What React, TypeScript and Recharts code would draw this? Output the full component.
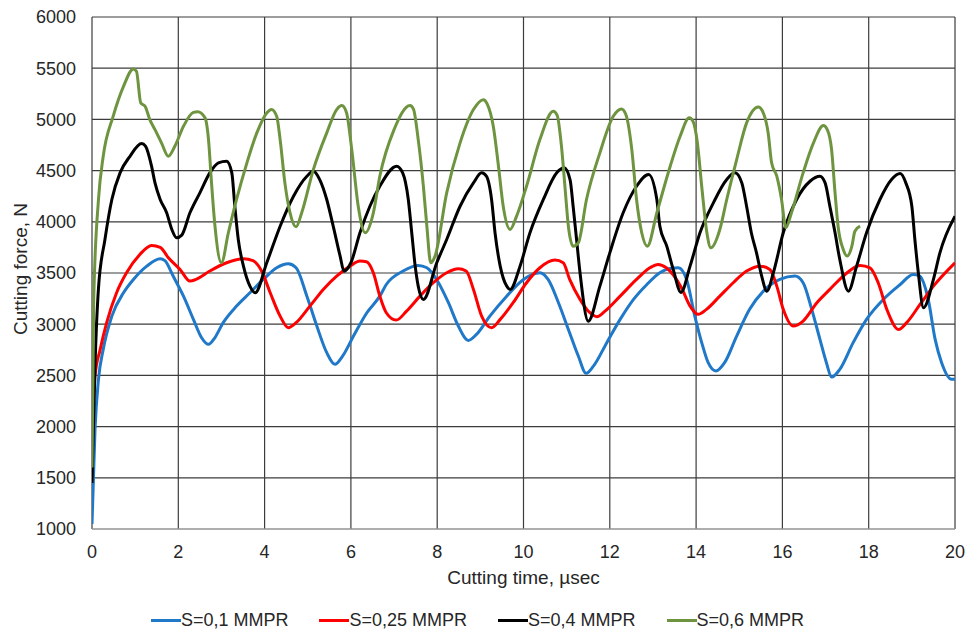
import { CartesianGrid, Legend, Line, LineChart, XAxis, YAxis } from 'recharts';

const TIME_TICKS = [0, 2, 4, 6, 8, 10, 12, 14, 16, 18, 20];
const FORCE_TICKS = [1000, 1500, 2000, 2500, 3000, 3500, 4000, 4500, 5000, 5500, 6000];

const SERIES_NAMES = ['S=0,1 MMPR', 'S=0,25 MMPR', 'S=0,4 MMPR', 'S=0,6 MMPR'];
const SERIES_COLORS = ['#1f78c8', '#ff0000', '#000000', '#6f9440'];

// [time µsec, force N]
const S_01: [number, number][] = [
  [0, 1050], [0.07, 1974], [0.15, 2461], [0.26, 2754], [0.46, 3079], [0.73, 3307], [0.96, 3437],
  [1.27, 3567], [1.58, 3639], [1.69, 3620], [1.88, 3470], [2.12, 3274], [2.35, 3047], [2.54, 2868],
  [2.7, 2803], [2.85, 2870], [3.04, 3015], [3.35, 3177], [3.66, 3307], [3.97, 3437], [4.28, 3551],
  [4.55, 3590], [4.73, 3551], [4.98, 3274], [5.21, 2982], [5.44, 2722], [5.63, 2608], [5.81, 2690],
  [6.06, 2884], [6.37, 3112], [6.67, 3274], [6.82, 3388], [7.21, 3519], [7.56, 3574], [7.76, 3551],
  [8.03, 3405], [8.26, 3210], [8.49, 2982], [8.72, 2842], [8.91, 2900], [9.22, 3079], [9.61, 3274],
  [10.0, 3437], [10.38, 3502], [10.57, 3437], [10.81, 3210], [11.04, 2949], [11.27, 2689],
  [11.45, 2520], [11.62, 2590], [11.93, 2820], [12.24, 3047], [12.55, 3242], [12.86, 3388],
  [13.16, 3502], [13.4, 3545], [13.59, 3551], [13.78, 3437], [13.97, 3079], [14.13, 2820],
  [14.28, 2624], [14.46, 2543], [14.66, 2624], [14.94, 2884], [15.24, 3145], [15.56, 3323],
  [15.94, 3437], [16.29, 3470], [16.48, 3405], [16.68, 3145], [16.87, 2852], [17.02, 2624],
  [17.14, 2484], [17.33, 2559], [17.64, 2820], [17.95, 3047], [18.34, 3242], [18.73, 3388],
  [19.03, 3486], [19.18, 3470], [19.38, 3242], [19.54, 2852], [19.69, 2624], [19.92, 2462], [20, 2462],
];

const S_025: [number, number][] = [
  [0, 1900], [0.07, 2494], [0.19, 2754], [0.34, 3015], [0.57, 3307], [0.8, 3502], [1.11, 3681],
  [1.38, 3769], [1.58, 3750], [1.77, 3649], [2.04, 3535], [2.27, 3421], [2.41, 3437], [2.73, 3519],
  [3.12, 3600], [3.51, 3639], [3.73, 3620], [3.93, 3519], [4.13, 3307], [4.36, 3079], [4.55, 2966],
  [4.73, 3015], [5.05, 3177], [5.36, 3340], [5.67, 3470], [5.98, 3567], [6.21, 3616], [6.36, 3610],
  [6.52, 3502], [6.67, 3274], [6.82, 3112], [7.05, 3040], [7.29, 3128], [7.6, 3274], [7.91, 3405],
  [8.22, 3502], [8.49, 3541], [8.67, 3519], [8.84, 3340], [9.03, 3079], [9.26, 2966], [9.46, 3047],
  [9.76, 3210], [10.07, 3405], [10.38, 3551], [10.73, 3626], [10.92, 3600], [11.07, 3437],
  [11.31, 3242], [11.54, 3112], [11.7, 3073], [11.89, 3128], [12.24, 3274], [12.62, 3437],
  [12.93, 3551], [13.12, 3584], [13.31, 3551], [13.66, 3356], [13.86, 3177], [14.05, 3096],
  [14.24, 3145], [14.55, 3274], [14.86, 3405], [15.17, 3519], [15.48, 3567], [15.71, 3535],
  [15.87, 3372], [16.02, 3145], [16.25, 2982], [16.48, 3031], [16.8, 3210], [17.1, 3340],
  [17.41, 3470], [17.8, 3574], [18.03, 3551], [18.22, 3405], [18.42, 3145], [18.69, 2949],
  [18.88, 3015], [19.19, 3193], [19.5, 3372], [20, 3600],
];

const S_04: [number, number][] = [
  [0, 1450], [0.07, 2600], [0.15, 3350], [0.3, 3827], [0.46, 4218], [0.65, 4478], [0.88, 4640],
  [1.15, 4764], [1.24, 4738], [1.38, 4543], [1.46, 4380], [1.58, 4218], [1.73, 4088], [1.85, 3925],
  [1.96, 3844], [2.08, 3870], [2.27, 4088], [2.5, 4283], [2.73, 4478], [2.93, 4576], [3.12, 4591],
  [3.24, 4478], [3.31, 4152], [3.39, 3827], [3.51, 3567], [3.66, 3372], [3.78, 3307], [4.05, 3600],
  [4.36, 3957], [4.67, 4250], [4.98, 4445], [5.13, 4494], [5.28, 4410], [5.44, 4218], [5.59, 3957],
  [5.75, 3665], [5.84, 3518], [6.0, 3600], [6.21, 3893], [6.44, 4152], [6.67, 4347], [7.06, 4543],
  [7.2, 4478], [7.33, 4218], [7.41, 3893], [7.49, 3567], [7.56, 3372], [7.68, 3242], [7.99, 3600],
  [8.22, 3827], [8.53, 4152], [8.84, 4380], [9.03, 4478], [9.14, 4445], [9.26, 4218], [9.34, 3893],
  [9.46, 3567], [9.61, 3372], [9.69, 3340], [9.92, 3567], [10.15, 3893], [10.46, 4218],
  [10.77, 4478], [10.94, 4527], [11.08, 4410], [11.15, 4152], [11.23, 3827], [11.31, 3502],
  [11.5, 3030], [11.77, 3372], [12.0, 3697], [12.31, 4088], [12.62, 4347], [12.9, 4461],
  [13.09, 4218], [13.16, 3957], [13.32, 3762], [13.47, 3535], [13.65, 3310], [13.86, 3567],
  [14.09, 3893], [14.4, 4185], [14.71, 4413], [14.9, 4478], [15.06, 4380], [15.17, 4152],
  [15.28, 3893], [15.4, 3697], [15.52, 3470], [15.64, 3323], [15.79, 3502], [16.02, 3893],
  [16.33, 4218], [16.64, 4396], [16.87, 4445], [16.99, 4380], [17.1, 4152], [17.22, 3893],
  [17.33, 3632], [17.53, 3323], [17.72, 3567], [17.95, 3893], [18.26, 4218], [18.53, 4413],
  [18.73, 4471], [18.86, 4380], [19.0, 4152], [19.07, 3827], [19.15, 3502], [19.27, 3161],
  [19.5, 3437], [19.65, 3697], [20, 4055],
];

const S_06: [number, number][] = [
  [0, 1600], [0.04, 3240], [0.15, 4218], [0.26, 4640], [0.49, 5030], [0.73, 5323], [0.96, 5493],
  [1.03, 5470], [1.13, 5161], [1.23, 5128], [1.34, 4998], [1.46, 4900], [1.61, 4771], [1.77, 4640],
  [1.92, 4738], [2.12, 4933], [2.35, 5069], [2.45, 5075], [2.62, 5015], [2.7, 4803], [2.77, 4380],
  [2.85, 3957], [3.0, 3600], [3.16, 3893], [3.35, 4218], [3.59, 4576], [3.82, 4868], [4.05, 5063],
  [4.16, 5096], [4.28, 5030], [4.36, 4803], [4.47, 4380], [4.59, 4088], [4.73, 3951], [4.86, 4088],
  [5.13, 4510], [5.44, 4868], [5.67, 5096], [5.79, 5135], [5.9, 5063], [6.02, 4705], [6.17, 4152],
  [6.33, 3893], [6.52, 4088], [6.67, 4445], [7.0, 4900], [7.37, 5135], [7.45, 5100], [7.56, 4803],
  [7.68, 4347], [7.76, 3957], [7.85, 3600], [7.95, 3665], [8.22, 4283], [8.53, 4771], [8.84, 5096],
  [9.07, 5193], [9.16, 5150], [9.3, 4933], [9.42, 4543], [9.53, 4152], [9.69, 3925], [9.84, 4055],
  [10.07, 4347], [10.38, 4803], [10.69, 5079], [10.78, 5040], [10.88, 4738], [10.96, 4347],
  [11.04, 3957], [11.15, 3762], [11.27, 3795], [11.46, 4218], [11.77, 4673], [12.08, 5030],
  [12.27, 5102], [12.37, 5050], [12.51, 4705], [12.62, 4218], [12.74, 3893], [12.87, 3762],
  [13.09, 4088], [13.4, 4543], [13.63, 4835], [13.84, 5015], [13.93, 4980], [14.03, 4771],
  [14.13, 4347], [14.25, 3893], [14.34, 3746], [14.55, 3925], [14.71, 4218], [14.94, 4608],
  [15.17, 4966], [15.44, 5122], [15.56, 5060], [15.67, 4868], [15.75, 4576], [15.87, 4445],
  [15.98, 4218], [16.08, 3942], [16.21, 4088], [16.48, 4478], [16.72, 4771], [16.95, 4940],
  [17.04, 4900], [17.14, 4705], [17.22, 4283], [17.29, 3957], [17.41, 3730], [17.5, 3665],
  [17.61, 3762], [17.68, 3908], [17.8, 3957],
];

const SERIES = [S_01, S_025, S_04, S_06];

const FONT = "'Liberation Sans', Arial, sans-serif";
const TEXT = '#262626';

function toPoints(rows: [number, number][]) {
  return rows.map(([t, f]) => ({ t, f }));
}

function LegendRow() {
  return (
    <div style={{ height: 24, display: 'flex', justifyContent: 'center', alignItems: 'center', gap: 31, fontFamily: FONT, fontSize: 18, color: TEXT }}>
      {SERIES_NAMES.map((name, i) => (
        <div key={name} style={{ display: 'flex', alignItems: 'center' }}>
          <div style={{ width: 30, height: 3, background: SERIES_COLORS[i] }} />
          <span style={{ lineHeight: '24px' }}>{name}</span>
        </div>
      ))}
    </div>
  );
}

export default function App() {
  return (
    <div style={{ position: 'fixed', left: 0, top: 0, width: 966, height: 632, background: '#fff' }}>
      <LineChart width={966} height={632} margin={{ top: 17, right: 11, bottom: 0, left: 0 }}>
        <CartesianGrid stroke="#3c3c3c" strokeWidth={1.2} />
        <XAxis
          type="number"
          dataKey="t"
          domain={[0, 20]}
          ticks={TIME_TICKS}
          allowDataOverflow
          height={79}
          tickSize={0}
          tickMargin={16}
          axisLine={{ stroke: '#bfbfbf' }}
          tick={{ fill: TEXT, fontSize: 18, fontFamily: FONT }}
          label={{
            content: (p: any) => (
              <text x={p.viewBox.x + p.viewBox.width / 2} y={p.viewBox.y + 55} textAnchor="middle" fill={TEXT} fontSize={19} fontFamily={FONT}>
                Cutting time, µsec
              </text>
            ),
          }}
        />
        <YAxis
          type="number"
          dataKey="f"
          domain={[1000, 6000]}
          ticks={FORCE_TICKS}
          width={92}
          tickSize={0}
          tickMargin={16}
          axisLine={false}
          tick={{ fill: TEXT, fontSize: 18, fontFamily: FONT }}
          label={{
            content: (p: any) => {
              const cy = p.viewBox.y + p.viewBox.height / 2 - 4;
              return (
                <text x={27} y={cy} transform={`rotate(-90 27 ${cy})`} textAnchor="middle" fill={TEXT} fontSize={19} fontFamily={FONT}>
                  Cutting force, N
                </text>
              );
            },
          }}
        />
        <Legend verticalAlign="bottom" content={() => <LegendRow />} />
        {SERIES.map((rows, i) => (
          <Line
            key={SERIES_NAMES[i]}
            name={SERIES_NAMES[i]}
            data={toPoints(rows)}
            dataKey="f"
            type="monotone"
            stroke={SERIES_COLORS[i]}
            strokeWidth={3}
            dot={false}
            activeDot={false}
            isAnimationActive={false}
          />
        ))}
      </LineChart>
    </div>
  );
}
